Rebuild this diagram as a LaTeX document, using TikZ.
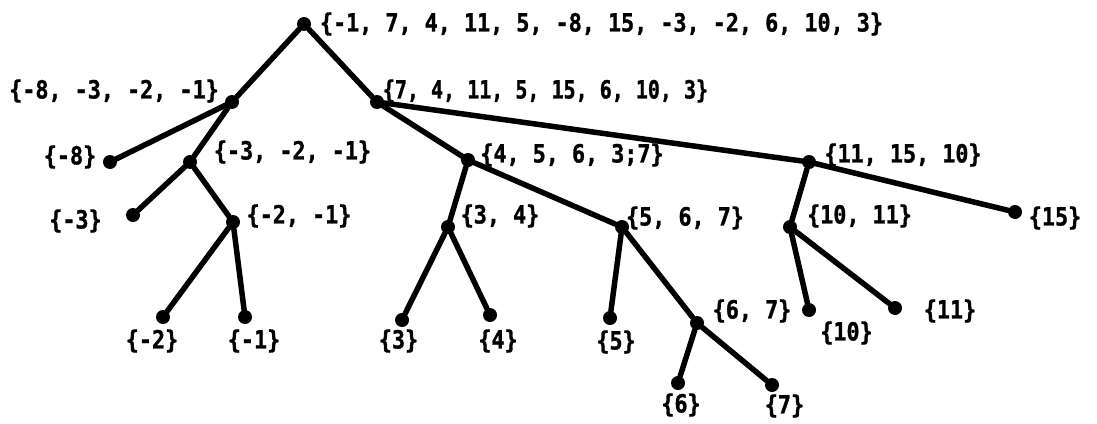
\documentclass[tikz,border=0pt]{standalone}
\usepackage{fontspec}
\newfontfamily\lblfont{DejaVu Sans Mono}[FakeStretch=0.87,BoldFeatures={FakeBold=1.2}]
\begin{document}
\begin{tikzpicture}[x=1pt,y=-1pt,
  dot/.style={circle,fill=black,inner sep=0pt,minimum size=14pt},
  lbl/.style={inner sep=0pt,anchor=center,font=\lblfont\bfseries\fontsize{25}{27}\selectfont},
  edge/.style={line width=5.5pt,line cap=round}]
\useasboundingbox (0,0) rectangle (1097,423);
% dots
\node[dot] (r) at (304,24) {};
\node[dot] (a) at (232,102) {};
\node[dot] (b) at (377,102) {};
\node[dot] (m8) at (110,162) {};
\node[dot] (c) at (190,162) {};
\node[dot] (e) at (468,160) {};
\node[dot] (i) at (809,162) {};
\node[dot] (m3) at (133,215) {};
\node[dot] (d) at (233,222) {};
\node[dot] (f) at (448,227) {};
\node[dot] (g) at (622,227) {};
\node[dot] (j) at (790,227) {};
\node[dot] (l15) at (1015,212) {};
\node[dot] (m2) at (163,317) {};
\node[dot] (m1) at (245,317) {};
\node[dot] (l3) at (402,320) {};
\node[dot] (l4) at (490,315) {};
\node[dot] (l5) at (610,318) {};
\node[dot] (h) at (697,323) {};
\node[dot] (l10) at (809,310) {};
\node[dot] (l11) at (895,308) {};
\node[dot] (l6) at (678,383) {};
\node[dot] (l7) at (772,385) {};
% edges
\draw[edge] (r) -- (a);
\draw[edge] (r) -- (b);
\draw[edge] (a) -- (m8);
\draw[edge] (a) -- (c);
\draw[edge] (c) -- (m3);
\draw[edge] (c) -- (d);
\draw[edge] (d) -- (m2);
\draw[edge] (d) -- (m1);
\draw[edge] (b) -- (e);
\draw[edge] (b) -- (i);
\draw[edge] (e) -- (f);
\draw[edge] (e) -- (g);
\draw[edge] (f) -- (l3);
\draw[edge] (f) -- (l4);
\draw[edge] (g) -- (l5);
\draw[edge] (g) -- (h);
\draw[edge] (h) -- (l6);
\draw[edge] (h) -- (l7);
\draw[edge] (i) -- (j);
\draw[edge] (i) -- (l15);
\draw[edge] (j) -- (l10);
\draw[edge] (j) -- (l11);
% labels
\node[lbl] (tr) at (601.5,24) {\{-1, 7, 4, 11, 5, -8, 15, -3, -2, 6, 10, 3\}};
\node[lbl] (ta) at (114,91) {\{-8, -3, -2, -1\}};
\node[lbl] (tb) at (545.5,91) {\scalebox{0.92}[1]{\{7, 4, 11, 5, 15, 6, 10, 3\}}};
\node[lbl] (tm8) at (70,157) {\{-8\}};
\node[lbl] (tc) at (292.5,152) {\{-3, -2, -1\}};
\node[lbl] (te) at (572,155) {\{4, 5, 6, 3;7\}};
\node[lbl] (ti) at (903,155) {\{11, 15, 10\}};
\node[lbl] (tm3) at (75.5,221) {\{-3\}};
\node[lbl] (td) at (299,216) {\{-2, -1\}};
\node[lbl] (tf) at (500,216) {\{3, 4\}};
\node[lbl] (tg) at (685,218) {\{5, 6, 7\}};
\node[lbl] (tj) at (859.5,216) {\{10, 11\}};
\node[lbl] (tl15) at (1055,218) {\{15\}};
\node[lbl] (th) at (752,311) {\{6, 7\}};
\node[lbl] (tl11) at (950,311) {\{11\}};
\node[lbl] (tl10) at (846.5,333) {\{10\}};
\node[lbl] (tm2) at (152,341) {\{-2\}};
\node[lbl] (tm1) at (254,341) {\{-1\}};
\node[lbl] (tl3) at (398.5,341) {\{3\}};
\node[lbl] (tl4) at (498,341) {\{4\}};
\node[lbl] (tl5) at (616,342) {\{5\}};
\node[lbl] (tl6) at (681,405) {\{6\}};
\node[lbl] (tl7) at (784.5,406) {\{7\}};
\end{tikzpicture}
\end{document}
